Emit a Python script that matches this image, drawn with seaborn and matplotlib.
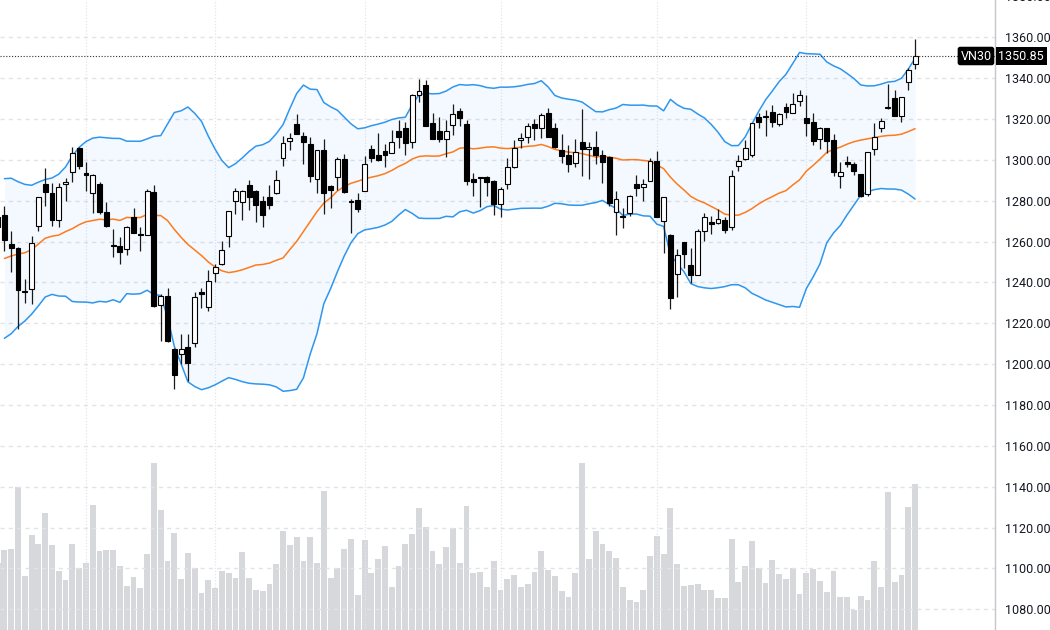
import numpy as np
import pandas as pd
import matplotlib
matplotlib.use("Agg")
import matplotlib.pyplot as plt
import matplotlib.transforms as mtransforms
from matplotlib.ticker import MultipleLocator, FuncFormatter
import seaborn as sns

symbol = "VN30"

# closes of the sessions before the visible window (feed the 20-session bands)
history_close = [1232, 1218, 1222, 1230, 1226, 1228, 1250, 1276, 1255, 1275,
                 1258, 1265, 1280, 1262, 1274, 1250, 1268, 1238]

open_ = [1272,
         1272.8, 1258.9, 1256.9, 1236.0, 1236.9, 1267.5, 1288.3, 1284.0, 1270.4, 1288.3,
         1294.3, 1305.7, 1293.5, 1283.8, 1288.3, 1274.6, 1258.5, 1257.7, 1256.4, 1272.0,
         1263.6, 1263.4, 1284.4, 1228.8, 1233.3, 1207.6, 1205.2, 1208.6, 1210.6, 1235.5,
         1228.0, 1244.7, 1248.8, 1262.9, 1280.0, 1279.4, 1287.7, 1285.0, 1280.1, 1281.8,
         1283.8, 1300.8, 1309.4, 1317.6, 1311.6, 1307.7, 1290.7, 1304.9, 1287.3, 1291.6,
         1300.3, 1280.0, 1280.5, 1285.0, 1305.2, 1302.4, 1304.5, 1303.6, 1314.3, 1315.5,
         1308.9, 1332.0, 1336.6, 1317.9, 1314.3, 1310.1, 1316.9, 1323.9, 1317.6, 1290.6,
         1291.6, 1291.6, 1289.9, 1278.4, 1288.3, 1296.4, 1309.6, 1311.1, 1317.6, 1315.8,
         1322.8, 1315.5, 1304.9, 1302.4, 1298.4, 1308.6, 1305.5, 1306.5, 1302.4, 1301.6,
         1274.5, 1272.7, 1274.0, 1288.1, 1286.7, 1289.8, 1299.5, 1269.9, 1263.4, 1244.2,
         1259.9, 1248.4, 1243.6, 1265.4, 1269.4, 1269.1, 1270.4, 1267.2, 1297.1, 1300.3,
         1302.4, 1321.1, 1321.5, 1323.6, 1317.6, 1326.0, 1323.1, 1328.8, 1320.3, 1318.4,
         1310.1, 1315.5, 1309.8, 1292.3, 1299.0, 1298.0, 1293.0, 1283.4, 1305.4, 1315.5,
         1325.2, 1330.1, 1321.5, 1337.9, 1346.7]

high = [1281,
        1277.6, 1265.4, 1257.5, 1241.5, 1262.6, 1282.0, 1296.0, 1288.9, 1288.7, 1291.1,
        1306.5, 1306.5, 1298.9, 1293.0, 1289.0, 1279.2, 1266.2, 1262.3, 1267.5, 1276.4,
        1267.2, 1285.7, 1287.8, 1234.5, 1237.2, 1208.0, 1214.6, 1214.6, 1235.5, 1237.4,
        1245.9, 1248.8, 1260.1, 1275.0, 1286.2, 1285.5, 1290.2, 1285.2, 1282.1, 1287.5,
        1295.1, 1311.7, 1313.3, 1322.3, 1313.8, 1311.4, 1305.0, 1310.2, 1287.5, 1301.6,
        1302.8, 1280.8, 1283.8, 1302.0, 1307.3, 1313.0, 1307.8, 1314.6, 1319.5, 1318.7,
        1332.2, 1339.4, 1339.0, 1322.8, 1321.1, 1319.5, 1327.3, 1325.2, 1319.5, 1293.5,
        1291.8, 1292.2, 1290.0, 1286.5, 1300.8, 1309.8, 1313.3, 1317.9, 1319.9, 1322.8,
        1325.2, 1318.2, 1312.5, 1307.3, 1310.2, 1324.7, 1308.9, 1314.3, 1304.9, 1302.0,
        1285.0, 1276.4, 1282.9, 1292.7, 1290.6, 1300.8, 1304.5, 1282.0, 1263.5, 1256.6,
        1260.0, 1256.9, 1266.2, 1274.0, 1272.7, 1276.0, 1272.0, 1295.1, 1302.4, 1309.8,
        1318.0, 1322.8, 1324.4, 1326.8, 1323.1, 1328.0, 1332.5, 1334.1, 1331.7, 1323.1,
        1316.2, 1315.7, 1312.7, 1299.2, 1302.1, 1299.2, 1293.2, 1304.0, 1317.9, 1320.3,
        1337.1, 1334.1, 1331.0, 1345.2, 1359.4]

low = [1266,
       1255.3, 1245.2, 1217.0, 1229.8, 1229.6, 1265.0, 1277.2, 1267.5, 1267.2, 1280.1,
       1289.4, 1295.5, 1285.0, 1274.0, 1273.5, 1267.2, 1252.3, 1248.9, 1253.2, 1264.0,
       1255.3, 1263.0, 1228.0, 1211.4, 1211.0, 1187.8, 1200.0, 1191.9, 1208.6, 1227.7,
       1226.0, 1240.0, 1248.5, 1257.4, 1273.5, 1270.7, 1275.6, 1269.6, 1267.0, 1276.0,
       1283.5, 1297.1, 1304.9, 1312.5, 1297.9, 1289.4, 1283.8, 1273.5, 1276.4, 1285.4,
       1284.0, 1264.2, 1274.3, 1284.8, 1299.2, 1299.5, 1296.7, 1303.3, 1305.7, 1302.4,
       1305.7, 1328.4, 1316.5, 1310.0, 1308.9, 1301.3, 1312.2, 1316.6, 1287.8, 1282.4,
       1276.9, 1282.1, 1273.2, 1271.9, 1285.7, 1296.2, 1305.7, 1308.5, 1309.8, 1310.6,
       1311.0, 1306.0, 1298.7, 1294.3, 1296.4, 1292.2, 1290.6, 1298.0, 1288.9, 1277.6,
       1263.4, 1266.7, 1272.7, 1282.4, 1279.7, 1289.5, 1271.8, 1254.5, 1226.8, 1233.0,
       1247.2, 1239.5, 1243.5, 1260.5, 1263.8, 1268.8, 1264.2, 1265.9, 1294.8, 1299.7,
       1301.6, 1315.8, 1311.7, 1316.2, 1316.6, 1320.3, 1323.0, 1326.5, 1311.7, 1307.3,
       1305.2, 1303.6, 1291.9, 1286.2, 1296.7, 1292.7, 1281.8, 1282.1, 1302.4, 1313.8,
       1325.0, 1321.3, 1318.7, 1334.1, 1344.7]

close = [1267,
         1260.6, 1256.7, 1236.2, 1235.4, 1259.4, 1281.8, 1284.5, 1270.4, 1286.6, 1289.3,
         1303.6, 1297.2, 1292.8, 1292.7, 1274.5, 1267.8, 1258.0, 1254.8, 1267.3, 1264.2,
         1263.1, 1285.0, 1228.4, 1233.3, 1211.2, 1194.6, 1207.3, 1200.8, 1232.7, 1234.3,
         1240.8, 1247.5, 1255.8, 1274.8, 1285.0, 1285.0, 1281.8, 1277.7, 1272.8, 1277.7,
         1290.1, 1308.3, 1310.6, 1312.7, 1308.6, 1291.9, 1304.9, 1283.8, 1285.4, 1300.3,
         1284.1, 1279.5, 1276.1, 1297.9, 1301.1, 1299.7, 1302.4, 1308.6, 1311.4, 1308.5,
         1332.0, 1333.8, 1316.6, 1310.1, 1310.1, 1314.3, 1322.4, 1320.3, 1289.9, 1289.1,
         1291.2, 1289.4, 1278.5, 1285.9, 1296.4, 1305.7, 1310.9, 1316.6, 1315.8, 1322.0,
         1311.4, 1306.2, 1302.1, 1298.0, 1303.8, 1305.5, 1306.5, 1302.4, 1299.2, 1278.9,
         1280.8, 1272.1, 1282.1, 1286.2, 1288.1, 1299.5, 1272.0, 1281.6, 1232.5, 1253.3,
         1254.0, 1243.6, 1265.0, 1272.0, 1268.8, 1271.1, 1265.9, 1291.9, 1299.5, 1305.7,
         1317.9, 1318.7, 1320.8, 1318.7, 1322.3, 1323.6, 1327.3, 1331.7, 1317.9, 1309.4,
         1315.8, 1309.3, 1294.3, 1294.3, 1297.9, 1294.6, 1282.1, 1303.8, 1311.1, 1319.0,
         1326.0, 1321.5, 1330.9, 1344.2, 1350.85]

# volume in millions of shares
volume = [67.3,
          80, 80.7, 143.3, 54, 95, 85.7, 117, 84.7, 59, 50,
          85.7, 62, 66.7, 125, 79, 80, 80, 64, 44, 53,
          42.3, 75.7, 166.7, 120, 69, 97.3, 51, 77, 61.7, 36.7,
          50, 41.7, 58.7, 57, 52, 77.7, 52, 40, 39.3, 46,
          65.7, 99, 85, 93, 69, 92.7, 67, 138.7, 52, 62,
          81, 90.7, 35.3, 90, 56.7, 71.3, 84, 42.7, 63.7, 86,
          96, 121.7, 102.7, 79, 66, 83, 102, 67, 124.3, 56.7,
          58, 42.7, 69.3, 40, 51.3, 55, 42.7, 46, 58, 79.3,
          60.3, 54, 39, 33.3, 56.7, 166.7, 71, 99, 85.7, 79,
          72, 42.7, 30.3, 27.7, 40.3, 73.7, 94, 75.7, 121.7, 66.3,
          44, 45, 46, 39.7, 40.3, 32.3, 32.3, 90.7, 48, 64,
          89, 61.7, 47.3, 70, 56, 51, 62, 36, 57, 61.3,
          49, 38, 58.7, 32.7, 32.7, 20.3, 34, 30.3, 69, 43,
          138, 48, 55, 123, 146]

# sessions where a new month starts (vertical separators)
month_starts = [12, 31, 53, 73, 96, 118]

# ---------------------------------------------------------------- data frame
n = len(close)
df = pd.DataFrame({"i": np.arange(-1, n - 1), "open": open_, "high": high,
                   "low": low, "close": close, "volume": volume})
all_close = pd.Series(history_close + close, dtype=float)
mid_all = all_close.rolling(20).mean()
std_all = all_close.rolling(20).std(ddof=0)
k = len(history_close)
df["mid"] = mid_all.values[k:]
df["upper"] = (mid_all + 2 * std_all).values[k:]
df["lower"] = (mid_all - 2 * std_all).values[k:]

# ---------------------------------------------------------------- style
sns.set_theme(style="white")
plt.rcParams["font.family"] = ["Roboto", "DejaVu Sans"]

BLUE = "#2f96ee"
ORANGE = "#ff7a1c"
GRID = "#e1e3ea"
VOL = "#d7d8dc"

fig = plt.figure(figsize=(10.5, 6.3), dpi=100)
rect = [0.0, -0.06444, 995 / 1050, 1.1025]
ax_vol = fig.add_axes(rect)
ax = fig.add_axes(rect, sharex=ax_vol)
ax.patch.set_visible(False)

# volume
sns.barplot(data=df, x="i", y="volume", native_scale=True, color=VOL,
            saturation=1, width=0.86, errorbar=None, linewidth=0, ax=ax_vol)
ax_vol.set_ylim(-40.6, 654.0)
ax_vol.set_axis_off()

# bands
ax.fill_between(df["i"], df["lower"], df["upper"], color=BLUE, alpha=0.055,
                lw=0, zorder=1)
sns.lineplot(data=df, x="i", y="upper", color=BLUE, lw=1.1, ax=ax, zorder=2)
sns.lineplot(data=df, x="i", y="lower", color=BLUE, lw=1.1, ax=ax, zorder=2)
sns.lineplot(data=df, x="i", y="mid", color=ORANGE, lw=1.1, ax=ax, zorder=2)

# candles
up = df["close"] >= df["open"]
ax.vlines(df["i"], df["low"], df["high"], color="#1a1a1a", lw=0.9, zorder=3)
body_lo = np.minimum(df["open"], df["close"])
body_h = np.maximum((df["close"] - df["open"]).abs(), 0.45)
ax.bar(df["i"], body_h, bottom=body_lo, width=0.72,
       color=np.where(up, "white", "black"), edgecolor="black",
       linewidth=0.8, zorder=4)

# last price line and labels
last = df["close"].iloc[-1]
ax.axhline(last, color="#333333", ls=(0, (1, 1.6)), lw=0.8, zorder=5)
trans = mtransforms.blended_transform_factory(ax.transAxes, ax.transData)
ax.text(1.0035, last, f"{last:.2f}", transform=trans, ha="left", va="center",
        color="white", fontsize=9, clip_on=False, zorder=10,
        bbox=dict(boxstyle="square,pad=0.22", fc="black", ec="none"))
ax.text(0.9965, last, symbol, transform=trans, ha="right", va="center",
        color="white", fontsize=9, zorder=10,
        bbox=dict(boxstyle="round,pad=0.22,rounding_size=0.2", fc="black", ec="none"))

# axes
ax.set_ylim(1050, 1390)
ax.set_xlim(-0.647, 145.76)
ax.yaxis.tick_right()
ax.yaxis.set_major_locator(MultipleLocator(20))
ax.yaxis.set_major_formatter(FuncFormatter(lambda v, p: f"{v:.2f}"))
ax.tick_params(axis="y", length=0, pad=7.5, labelsize=9, labelcolor="#131722")
ax.set_xticks(month_starts)
ax.tick_params(axis="x", length=0, labelbottom=False)
ax.set_xlabel("")
ax.set_ylabel("")
ax.set_axisbelow(True)
ax.grid(axis="y", color=GRID, ls=(0, (3, 3)), lw=1.0)
ax.grid(axis="x", color="#e4e5ea", ls=(0, (1, 1.5)), lw=0.9)
for s in ["top", "left", "bottom"]:
    ax.spines[s].set_visible(False)
ax.spines["right"].set_color("#c4c6cc")
ax.spines["right"].set_linewidth(1.0)

fig.savefig("out.png", dpi=100)
